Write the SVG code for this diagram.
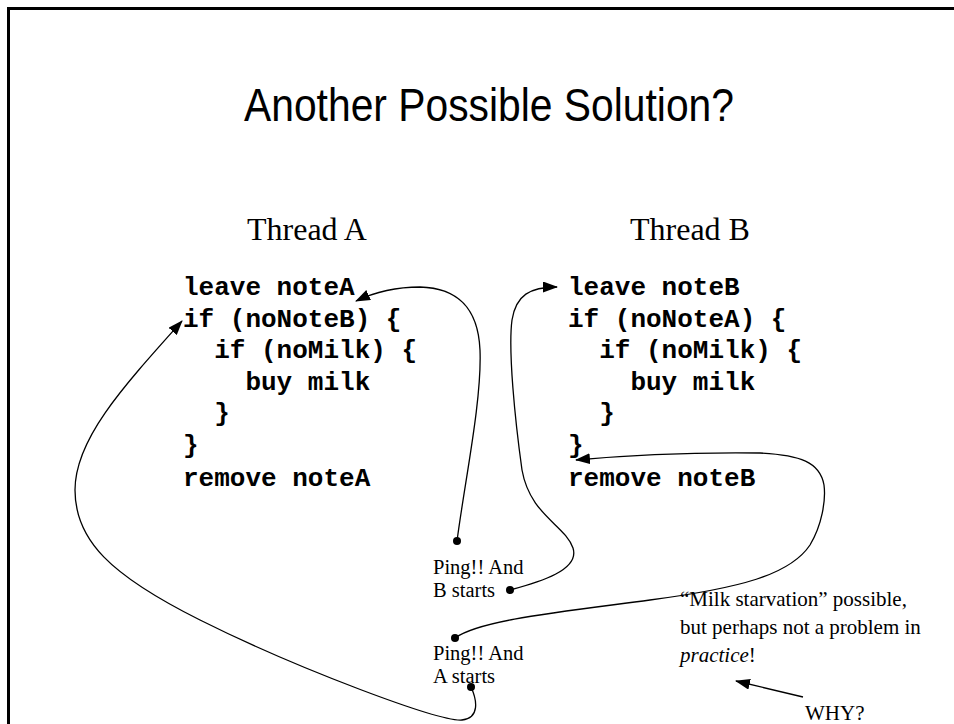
<svg xmlns="http://www.w3.org/2000/svg" width="954" height="724" viewBox="0 0 954 724">
  <style>
    .title { font-family: "Liberation Sans", Arial, sans-serif; font-size: 46px; fill: #000; }
    .thread { font-family: "Liberation Serif", "Times New Roman", serif; font-size: 32px; fill: #000; }
    .code { font-family: "Liberation Mono", "Courier New", monospace; font-size: 26px; font-weight: bold; fill: #000; white-space: pre; }
    .note { font-family: "Liberation Serif", "Times New Roman", serif; font-size: 21px; fill: #000; }
    .ping { font-family: "Liberation Serif", "Times New Roman", serif; font-size: 20.5px; fill: #000; }
    .conn { fill: none; stroke: #000; stroke-width: 1.3; }
    .dot { fill: #000; }
  </style>
  <defs>
    <marker id="arrow" viewBox="0 0 15 11" refX="14" refY="5.5" markerWidth="15" markerHeight="11" markerUnits="userSpaceOnUse" orient="auto">
      <path d="M0,0 L15,5.5 L0,11 Z" fill="#000"/>
    </marker>
  </defs>

  <!-- slide frame (right and bottom edges fall outside the view) -->
  <rect x="8.5" y="8.5" width="960" height="730" fill="#fff" stroke="#000" stroke-width="3"/>

  <text class="title" x="489" y="121" text-anchor="middle" textLength="490" lengthAdjust="spacingAndGlyphs">Another Possible Solution?</text>

  <g id="threadA">
    <text class="thread" x="247" y="240">Thread A</text>
    <text class="code" x="183" y="295">leave noteA</text>
    <text class="code" x="183" y="327">if (noNoteB) {</text>
    <text class="code" x="183" y="358">  if (noMilk) {</text>
    <text class="code" x="183" y="390">    buy milk</text>
    <text class="code" x="183" y="421">  }</text>
    <text class="code" x="183" y="453">}</text>
    <text class="code" x="183" y="486">remove noteA</text>
  </g>

  <g id="threadB">
    <text class="thread" x="630" y="240">Thread B</text>
    <text class="code" x="568" y="295">leave noteB</text>
    <text class="code" x="568" y="327">if (noNoteA) {</text>
    <text class="code" x="568" y="358">  if (noMilk) {</text>
    <text class="code" x="568" y="390">    buy milk</text>
    <text class="code" x="568" y="421">  }</text>
    <text class="code" x="568" y="453">}</text>
    <text class="code" x="568" y="486">remove noteB</text>
  </g>

  <g id="pingB">
    <text class="ping" x="433" y="574">Ping!! And</text>
    <text class="ping" x="433" y="597">B starts</text>
  </g>

  <g id="pingA">
    <text class="ping" x="433" y="660">Ping!! And</text>
    <text class="ping" x="433" y="683">A starts</text>
  </g>

  <g id="starvation">
    <text class="note" x="680" y="606">“Milk starvation” possible,</text>
    <text class="note" x="680" y="634">but perhaps not a problem in</text>
    <text class="note" x="680" y="662"><tspan font-style="italic">practice</tspan>!</text>
  </g>

  <g id="why">
    <text class="note" x="805" y="720">WHY?</text>
  </g>

  <g id="connectors">
    <!-- A is interrupted after leaving its note; B starts -->
    <path class="conn" marker-end="url(#arrow)" d="M457,541 C465,480 482,400 480,350 C478,305 455,288 420,287 C395,287 375,292 356,301"/>
    <circle class="dot" cx="457" cy="541" r="4"/>
    <path class="conn" marker-end="url(#arrow)" d="M510,590 C540,582 580,570 573,548 C565,525 530,515 522,470 C515,420 508,350 512,320 C516,295 530,287 557,287"/>
    <circle class="dot" cx="510" cy="590" r="4"/>
    <!-- B is interrupted before removing its note; A resumes -->
    <path class="conn" marker-end="url(#arrow)" d="M455,638 C480,620 560,612 650,600 C740,588 790,575 810,545 C822,525 826,500 824,485 C820,462 800,455 760,453 C680,452 630,455 576,460"/>
    <circle class="dot" cx="455" cy="638" r="4"/>
    <path class="conn" marker-end="url(#arrow)" d="M471,687 C477,700 480,718 462,720 C440,722 300,670 200,620 C110,575 75,540 75,490 C75,440 120,390 182,321"/>
    <circle class="dot" cx="471" cy="687" r="4"/>
    <!-- WHY? pointer -->
    <path class="conn" marker-end="url(#arrow)" d="M803,697 L736,681"/>
  </g>
</svg>
